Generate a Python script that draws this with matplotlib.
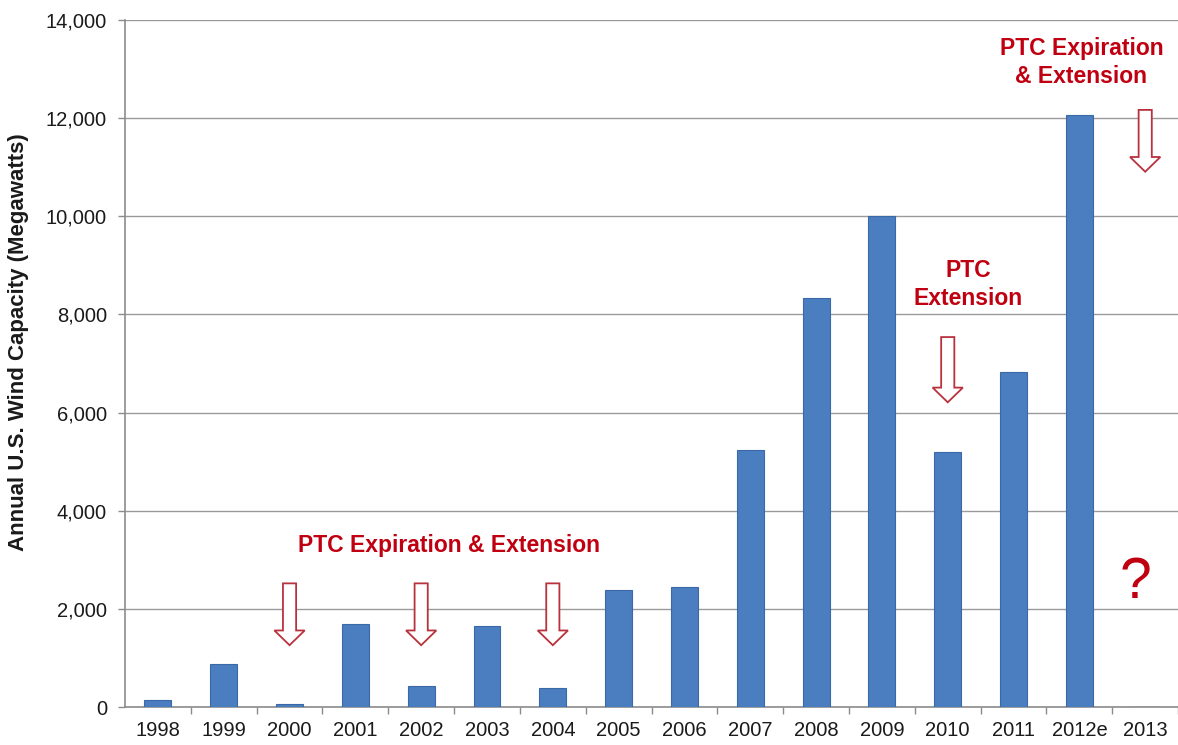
import matplotlib
matplotlib.use('Agg')
import matplotlib.pyplot as plt
from matplotlib.patches import FancyArrow
from matplotlib.ticker import FuncFormatter

# annual installed wind capacity, MW
years = ['1998', '1999', '2000', '2001', '2002', '2003', '2004', '2005',
         '2006', '2007', '2008', '2009', '2010', '2011', '2012e', '2013']
capacity = [140, 880, 60, 1690, 420, 1660, 390, 2375,
            2450, 5240, 8330, 10000, 5200, 6820, 12070, 0]

# PTC arrows: year, top and tip of the arrow (MW)
arrow_years = ['2000', '2002', '2004', '2010', '2013']
arrow_tops = [2520, 2520, 2520, 7540, 12170]
arrow_tips = [1260, 1260, 1260, 6210, 10910]

plt.rcParams['font.family'] = ['Liberation Sans', 'DejaVu Sans']

fig = plt.figure(figsize=(11.78, 7.45), dpi=100)
ax = fig.add_axes([0.1061, 0.051, 0.894, 0.922])

x = list(range(len(years)))
ax.bar(x, capacity, width=0.41, color='#4A7EC0', edgecolor='#3B69A6', linewidth=0.8, zorder=3)

ax.set_xlim(-0.5, len(years) - 0.5)
ax.set_ylim(0, 14000)
ax.set_yticks(range(0, 14001, 2000))
ax.yaxis.set_major_formatter(FuncFormatter(lambda v, p: f'{int(v):,}'))
ax.set_xticks(x)
ax.set_xticklabels(years)
ax.set_xticks([i + 0.5 for i in x], minor=True)
ax.tick_params(axis='x', which='major', length=0, pad=10, labelsize=14.5, colors='#1A1A1A')
ax.tick_params(axis='x', which='minor', length=5, width=1, color='#8C8C8C')
ax.tick_params(axis='y', length=5, width=1, color='#8C8C8C', labelsize=14.5, labelcolor='#1A1A1A', pad=8)
ax.grid(axis='y', color='#9A9A9A', linewidth=1.0, zorder=0)

for s in ['top', 'right']:
    ax.spines[s].set_visible(False)
for s in ['left', 'bottom']:
    ax.spines[s].set_color('#8C8C8C')
    ax.spines[s].set_linewidth(1.2)

# y axis title placed in figure coordinates
fig.text(0.0155, 0.541, 'Annual U.S. Wind Capacity (Megawatts)', rotation=90, fontsize=16,
         fontweight='bold', color='#1A1A1A', ha='center', va='center')

# hollow down arrows marking PTC events
for yr, top, tip in zip(arrow_years, arrow_tops, arrow_tips):
    xi = years.index(yr)
    arr = FancyArrow(xi, top, 0, tip - top, width=0.2, head_width=0.46, head_length=300,
                     length_includes_head=True, facecolor='white', edgecolor='#B8323E',
                     linewidth=1.3, zorder=4)
    ax.add_patch(arr)

red = '#C00010'
ax.text(4.42, 3300, 'PTC Expiration & Extension', color=red, fontsize=16.5, fontweight='bold',
        ha='center', va='center', zorder=5)
ax.text(12.31, 8615, 'PTC\nExtension', color=red, fontsize=16.5, fontweight='bold',
        ha='center', va='center', linespacing=1.25, zorder=5)
ax.text(14.03, 13136, 'PTC Expiration\n& Extension', color=red, fontsize=16.5, fontweight='bold',
        ha='center', va='center', linespacing=1.25, zorder=5)
ax.text(14.85, 2520, '?', color=red, fontsize=41, ha='center', va='center', zorder=5)

fig.savefig('out.png', dpi=100)
